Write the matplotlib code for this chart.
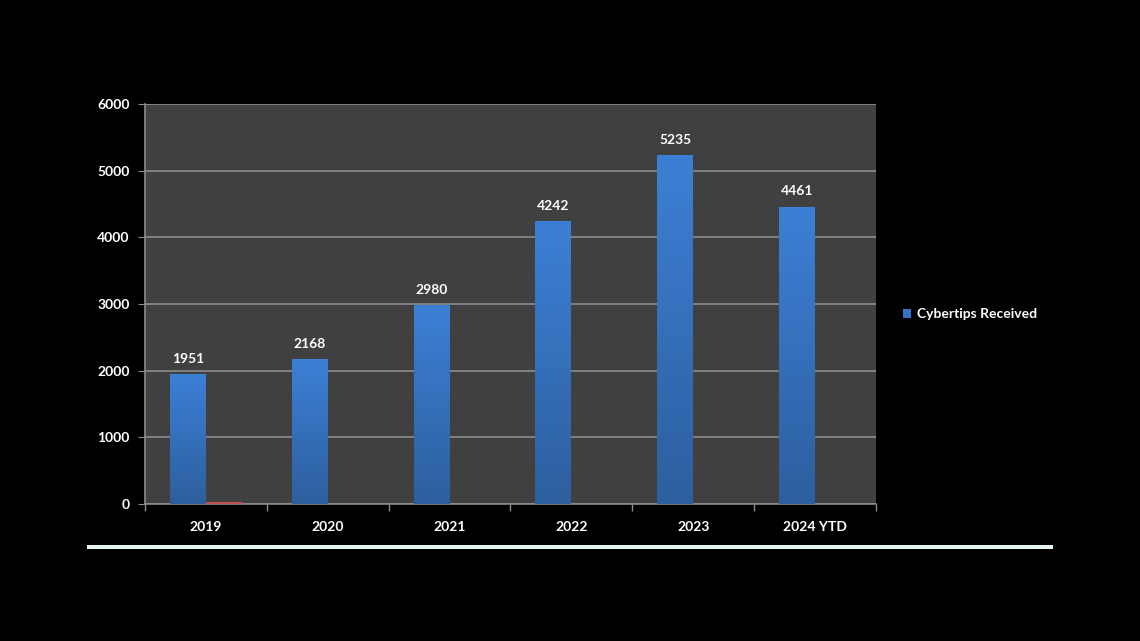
import matplotlib.pyplot as plt
import numpy as np
from matplotlib.patches import Rectangle

years = ['2019', '2020', '2021', '2022', '2023', '2024 YTD']
cybertips = [1951, 2168, 2980, 4242, 5235, 4461]
other = [30, 0, 0, 0, 0, 0]  # thin red bar visible only under 2019

plt.rcParams['font.family'] = ['Lato', 'DejaVu Sans']

fig = plt.figure(figsize=(11.4, 6.41), dpi=100, facecolor='black')
ax = fig.add_axes([145 / 1140, 1 - 504 / 641, 731 / 1140, 400 / 641])
ax.set_facecolor('#404040')

x = np.arange(len(years))
w = 0.295

ax.set_yticks(range(0, 6001, 1000))
ax.yaxis.grid(True, color='#8c8c8c', linewidth=1.2)
ax.set_axisbelow(True)

# blue bars with a vertical gradient
grad = np.linspace(0, 1, 256).reshape(-1, 1)
cmap = plt.matplotlib.colors.LinearSegmentedColormap.from_list('b', ['#2d5f9e', '#3c80d6'])
bars = ax.bar(x - w / 2, cybertips, w, color='#3574c4', label='Cybertips Received', zorder=2)
for b in bars:
    bx, by = b.get_x(), b.get_y()
    bw, bh = b.get_width(), b.get_height()
    im = ax.imshow(grad, cmap=cmap, origin='lower', aspect='auto',
                   extent=[bx, bx + bw, by, by + bh], zorder=3)
    im.set_clip_path(b)
ax.bar(x + w / 2, other, w, color='#c0504d', zorder=4)
ax.set_xlim(-0.5, len(years) - 0.5)
ax.set_ylim(0, 6000)

for xi, v in zip(x, cybertips):
    ax.text(xi - w / 2, v + 140, str(v), ha='center', va='bottom', color='white',
            fontsize=10, fontweight='bold')

ax.set_xticks(x)
ax.set_xticklabels(years)
ax.set_xticks(np.arange(-0.5, len(years)), minor=True)
ax.tick_params(axis='x', which='major', length=0, pad=12, colors='white', labelsize=10)
ax.tick_params(axis='x', which='minor', length=5, color='#8c8c8c', width=1)
ax.tick_params(axis='y', length=5, color='#8c8c8c', colors='white', labelsize=10, pad=6)
for lab in ax.get_xticklabels() + ax.get_yticklabels():
    lab.set_fontweight('bold')

for s in ['top', 'right']:
    ax.spines[s].set_visible(False)
for s in ['left', 'bottom']:
    ax.spines[s].set_color('#8c8c8c')
    ax.spines[s].set_linewidth(1.2)

leg = ax.legend(handles=[bars], loc='center left', bbox_to_anchor=(1.02, 0.475),
                frameon=False, handlelength=0.6, handleheight=0.6, handletextpad=0.4,
                prop={'size': 10, 'weight': 'bold'})
for t in leg.get_texts():
    t.set_color('white')

# light line beneath the chart
fig.add_artist(Rectangle((87 / 1140, 1 - 549 / 641), (1053 - 87) / 1140, 4 / 641,
                         transform=fig.transFigure, facecolor='#e6f4ee', edgecolor='none'))

fig.savefig('out.png', dpi=100, facecolor='black')
